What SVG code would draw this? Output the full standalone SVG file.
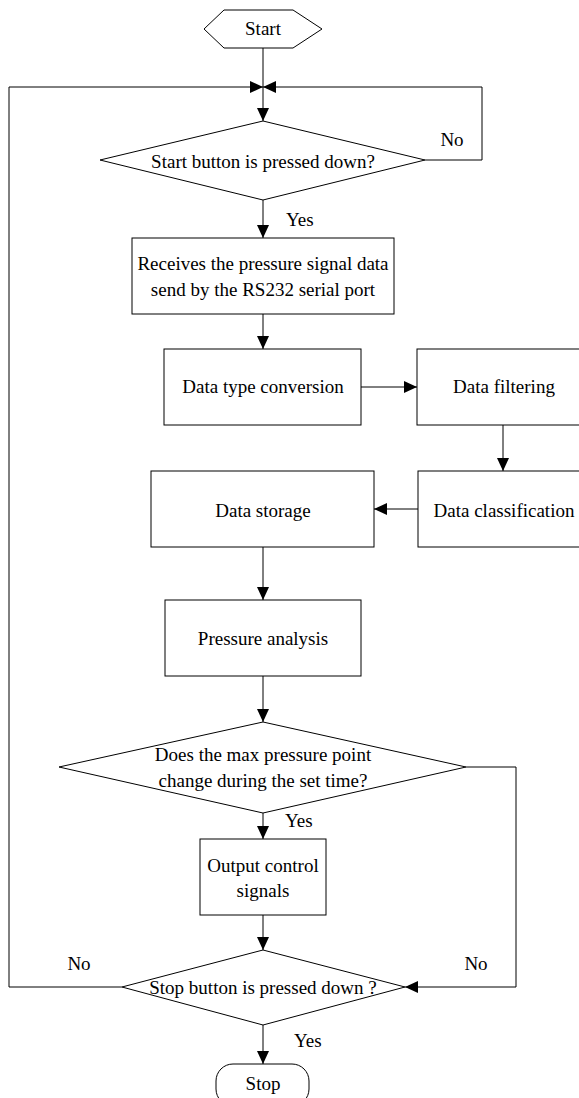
<svg xmlns="http://www.w3.org/2000/svg" width="579" height="1098" viewBox="0 0 579 1098">
<style>
.s{fill:#fff;stroke:#000;stroke-width:1}
.c{fill:none;stroke:#000;stroke-width:1}
text{font-family:"Liberation Serif","Times New Roman",serif;font-size:19px;fill:#000}
.m{text-anchor:middle}
</style>
<defs>
<marker id="a" viewBox="0 0 13 12" refX="13" refY="6" markerWidth="13" markerHeight="12" markerUnits="userSpaceOnUse" orient="auto">
<path d="M0,0 L13,6 L0,12 z" fill="#000"/>
</marker>
</defs>
<rect width="579" height="1098" fill="#fff"/>
<g id="connectors">
<path class="c" d="M263,48 V121" marker-end="url(#a)"/>
<path class="c" d="M122,987 H9 V87 H263" marker-end="url(#a)"/>
<path class="c" d="M425,160 H482 V87 H263" marker-end="url(#a)"/>
<path class="c" d="M263,200 V238" marker-end="url(#a)"/>
<path class="c" d="M263,314 V349" marker-end="url(#a)"/>
<path class="c" d="M361,387 H417" marker-end="url(#a)"/>
<path class="c" d="M503,425 V471" marker-end="url(#a)"/>
<path class="c" d="M418,509 H374" marker-end="url(#a)"/>
<path class="c" d="M263,547 V600" marker-end="url(#a)"/>
<path class="c" d="M263,676 V722" marker-end="url(#a)"/>
<path class="c" d="M263,813 V839" marker-end="url(#a)"/>
<path class="c" d="M466,767 H516 V987 H405" marker-end="url(#a)"/>
<path class="c" d="M263,915 V950" marker-end="url(#a)"/>
<path class="c" d="M263,1025 V1064" marker-end="url(#a)"/>
<text x="452" y="146" class="m">No</text>
<text x="286" y="226">Yes</text>
<text x="285" y="827">Yes</text>
<text x="79" y="970" class="m">No</text>
<text x="476" y="970" class="m">No</text>
<text x="294" y="1047">Yes</text>
</g>
<g id="start">
<polygon class="s" points="204,29 224,10 293,10 322,29 293,48 224,48"/>
<text x="263" y="35" class="m">Start</text>
</g>
<g id="startButton">
<polygon class="s" points="263,121 425,160 263,200 100,160"/>
<text x="263" y="168" class="m">Start button is pressed down?</text>
</g>
<g id="receive">
<rect class="s" x="132" y="238" width="262" height="76"/>
<text x="263" y="270" class="m">Receives the pressure signal data</text>
<text x="263" y="296" class="m">send by the RS232 serial port</text>
</g>
<g id="conversion">
<rect class="s" x="164" y="349" width="197" height="76"/>
<text x="263" y="393" class="m">Data type conversion</text>
</g>
<g id="filtering">
<rect class="s" x="417" y="349" width="166" height="76"/>
<text x="504" y="393" class="m">Data filtering</text>
</g>
<g id="classification">
<rect class="s" x="418" y="471" width="165" height="76"/>
<text x="504" y="517" class="m">Data classification</text>
</g>
<g id="storage">
<rect class="s" x="151" y="471" width="223" height="76"/>
<text x="263" y="517" class="m">Data storage</text>
</g>
<g id="analysis">
<rect class="s" x="165" y="600" width="196" height="76"/>
<text x="263" y="645" class="m">Pressure analysis</text>
</g>
<g id="maxChange">
<polygon class="s" points="263,722 466,767 263,813 59,767"/>
<text x="263" y="761" class="m">Does the max pressure point</text>
<text x="263" y="787" class="m">change during the set time?</text>
</g>
<g id="output">
<rect class="s" x="200" y="839" width="126" height="76"/>
<text x="263" y="872" class="m">Output control</text>
<text x="263" y="897" class="m">signals</text>
</g>
<g id="stopButton">
<polygon class="s" points="263,950 405,987 263,1025 122,987"/>
<text x="263" y="994" class="m">Stop button is pressed down ?</text>
</g>
<g id="stop">
<rect class="s" x="216" y="1064" width="93" height="42" rx="17"/>
<text x="263" y="1090" class="m">Stop</text>
</g>
</svg>
